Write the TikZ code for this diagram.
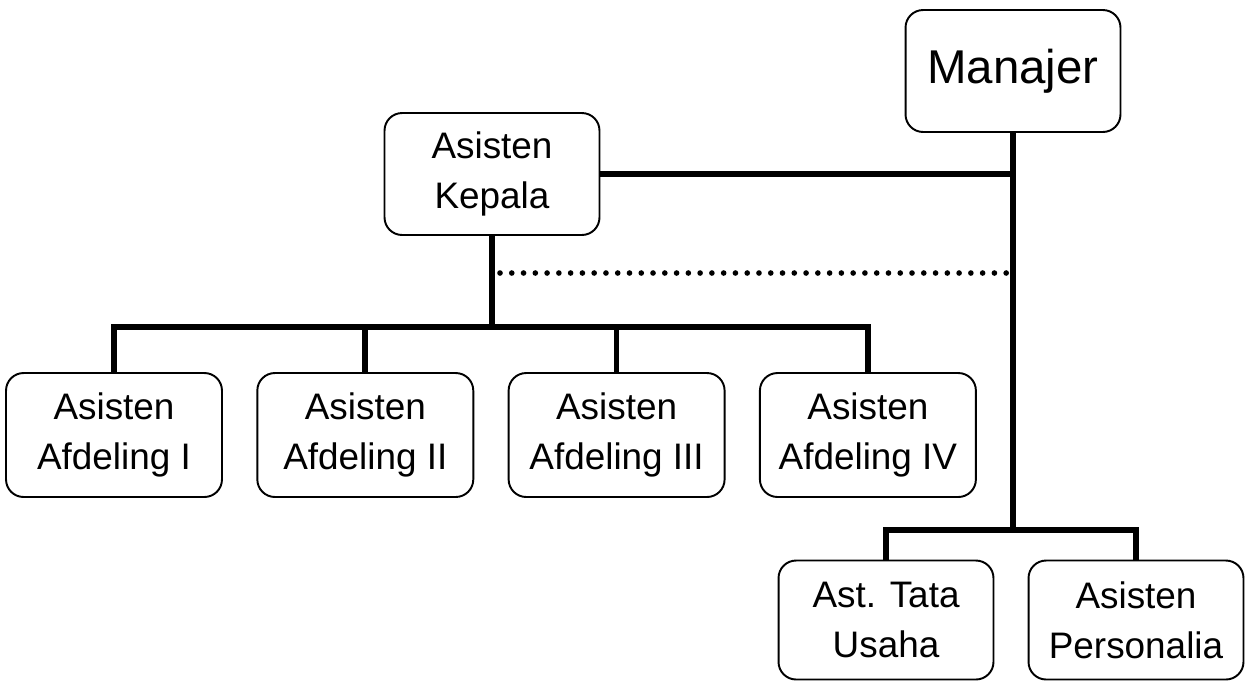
\documentclass[tikz,border=0pt]{standalone}
\usepackage{fontspec}
\setmainfont{Liberation Sans}
\usetikzlibrary{positioning}

\tikzset{
  unit/.style={draw, rounded corners=10pt, line width=1.1pt, align=center,
    minimum width=4.3cm, minimum height=2.44cm, inner sep=0pt,
    font=\fontsize{21}{28.5}\selectfont},
  link/.style={line width=3.2pt},
  staff/.style={line width=3.2pt, line cap=round, dash pattern=on 0pt off 6.7pt},
}

\begin{document}
\begin{tikzpicture}[x=0.02cm, y=-0.02cm]
        \useasboundingbox (0,0) rectangle (1253,681);

        \node [unit, font=\fontsize{27}{32}\selectfont] (manajer) at (1013,71) {Manajer};
        \node [unit] (kepala) at (492,174) {Asisten\\Kepala};

        \foreach \l [count=\i] in {I,II,III,IV}
        \node [unit, minimum width=4.32cm, minimum height=2.48cm] (afd-\i) at (114+251.3*\i-251.3,435) {Asisten\\Afdeling \l};

        \node [unit, minimum height=2.38cm] (tu) at (886,620) {Ast. Tata\\Usaha};
        \node [unit, minimum height=2.38cm] (personalia) at (1136,620) {Asisten\\Personalia};

        \coordinate (bar) at (492,327);
        \coordinate (fork) at (1013,530);
        \coordinate (dot) at (500,273);

        \draw [link] (manajer.south) -- (fork);
        \draw [link] (kepala.east) -- (manajer |- kepala.east);
        \draw [staff] (dot) -- (manajer |- dot);

        \draw [link] (kepala.south) -- (bar);
        \draw [link] (afd-1.north) |- (bar) -| (afd-4.north);
        \foreach \i in {2,3}
        \draw [link] (afd-\i.north) -- (afd-\i.north |- bar);

        \draw [link] (tu.north) |- (fork) -| (personalia.north);

      \end{tikzpicture}
\end{document}
